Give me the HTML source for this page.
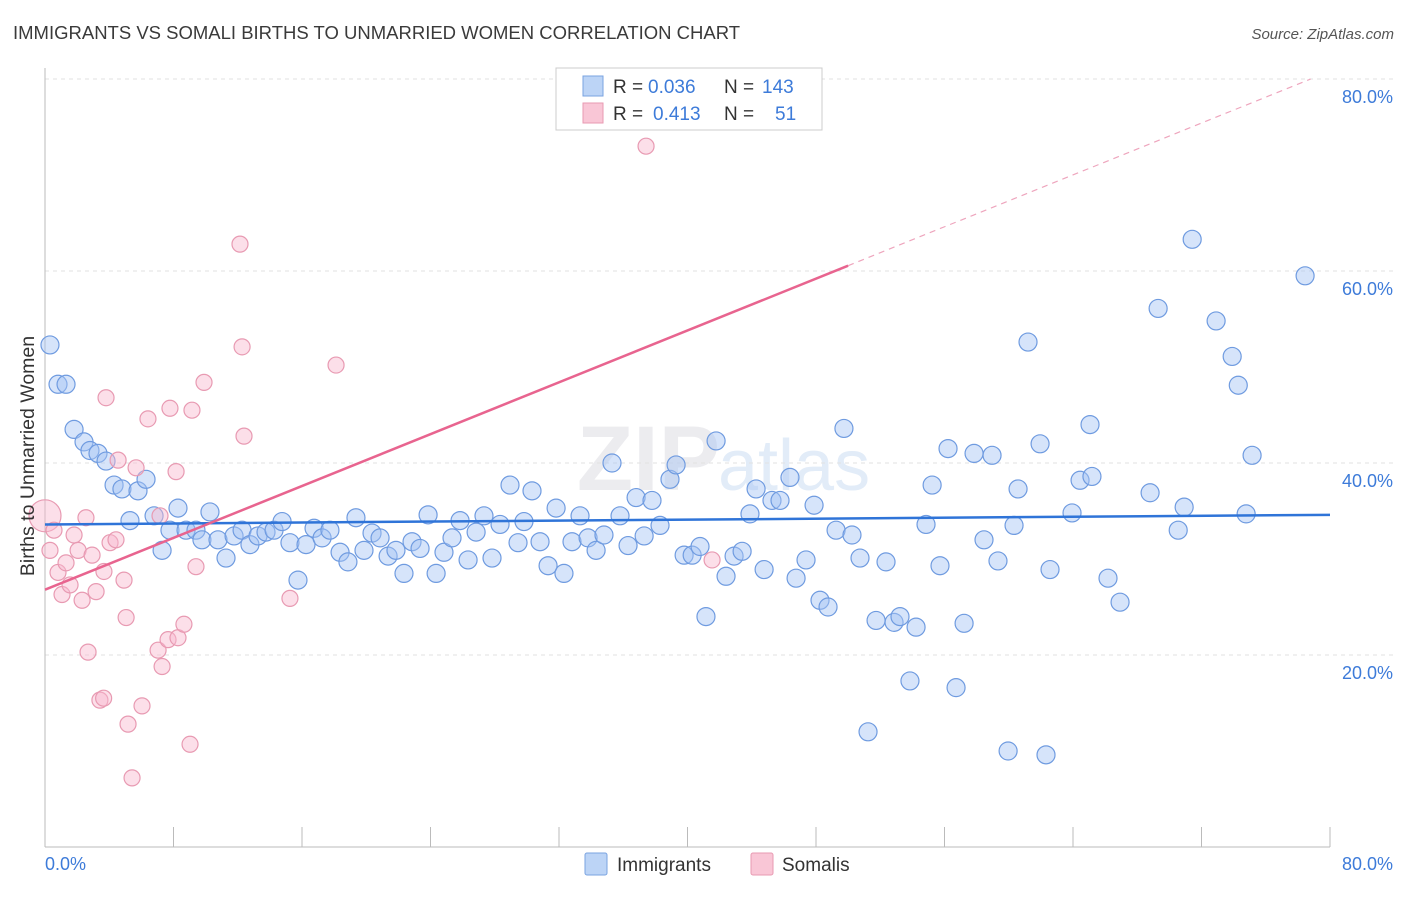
<!DOCTYPE html>
<html><head><meta charset="utf-8"><style>
body{margin:0;background:#fff;font-family:"Liberation Sans",sans-serif}
svg text{font-family:"Liberation Sans",sans-serif}
</style></head><body>
<svg width="1406" height="892" xmlns="http://www.w3.org/2000/svg">
<text x="13" y="39" font-size="18.5" fill="#3a3a3a">IMMIGRANTS VS SOMALI BIRTHS TO UNMARRIED WOMEN CORRELATION CHART</text>
<text x="1394" y="39" font-size="15" fill="#555" font-style="italic" text-anchor="end">Source: ZipAtlas.com</text>
<text x="720" y="490" font-size="92" fill="#ececef" text-anchor="end" font-family="Liberation Serif" font-weight="bold">ZIP</text>
<text x="718" y="490" font-size="72" fill="#e2ecf8">atlas</text>
<g id="grid"></g>
<g id="axes"></g>
<g id="pts"></g>
<g id="lines"></g>
<text transform="translate(34,456) rotate(-90)" font-size="19.5" fill="#333" text-anchor="middle">Births to Unmarried Women</text>
<g>
<rect x="556" y="68" width="266" height="62" fill="#fff" stroke="#ccc"/>
<rect x="583" y="76" width="20" height="20" fill="#bcd4f6" stroke="#7aa3e0"/>
<rect x="583" y="103" width="20" height="20" fill="#f9c6d6" stroke="#e89ab2"/>
<text x="613" y="93" font-size="19" fill="#333">R =</text>
<text x="648" y="93" font-size="19" fill="#3d7bd9">0.036</text>
<text x="724" y="93" font-size="19" fill="#333">N =</text>
<text x="762" y="93" font-size="19" fill="#3d7bd9">143</text>
<text x="613" y="120" font-size="19" fill="#333">R =</text>
<text x="653" y="120" font-size="19" fill="#3d7bd9">0.413</text>
<text x="724" y="120" font-size="19" fill="#333">N =</text>
<text x="775" y="120" font-size="19" fill="#3d7bd9">51</text>
</g>
<g>
<rect x="585" y="853" width="22" height="22" fill="#bcd4f6" stroke="#7aa3e0" rx="2"/>
<text x="617" y="871" font-size="19" fill="#333">Immigrants</text>
<rect x="751" y="853" width="22" height="22" fill="#f9c6d6" stroke="#e89ab2" rx="2"/>
<text x="782" y="871" font-size="19" fill="#333">Somalis</text>
</g>
</svg>
<script>
const yTicks=[20,40,60,80];
const xTickLabels=["0.0%","80.0%"];
const blueX=[0.31,0.81,1.31,1.81,2.43,2.80,3.30,3.80,4.30,4.79,5.79,6.29,5.29,6.79,7.29,7.78,8.28,8.78,9.40,9.77,10.27,10.77,11.27,11.77,12.27,12.76,13.26,13.76,14.26,14.76,15.25,15.75,16.25,16.75,17.25,17.74,18.37,18.86,19.36,19.86,20.36,20.86,21.36,21.85,22.35,22.85,23.35,23.85,24.35,24.84,25.34,25.84,26.34,26.84,27.33,27.83,28.33,28.95,29.45,29.82,30.32,30.82,31.32,31.82,32.31,32.81,33.31,33.81,34.31,34.80,35.30,35.80,36.30,36.80,37.30,37.79,38.29,38.91,39.29,39.79,40.29,40.78,41.15,41.78,42.40,42.90,43.40,43.89,44.27,44.77,45.26,45.76,46.38,46.76,47.38,47.88,48.25,48.75,49.25,49.74,50.24,50.74,51.24,51.74,52.36,52.86,53.23,53.85,54.23,54.85,55.23,55.72,56.22,56.72,57.22,57.84,58.46,58.96,59.33,59.96,60.33,60.58,61.20,61.95,62.32,62.57,63.94,64.44,65.06,65.18,66.18,66.93,68.80,69.30,70.55,70.92,71.42,72.91,73.91,74.29,74.78,75.15,78.45];
const blueY=[52.3,48.2,48.2,43.5,42.2,41.3,41.0,40.2,37.7,37.3,37.1,38.3,34.0,34.5,30.9,33.0,35.3,33.0,33.0,32.0,34.9,32.0,30.1,32.4,33.0,31.5,32.4,32.8,33.0,33.9,31.7,27.8,31.5,33.2,32.2,33.0,30.7,29.7,34.3,30.9,32.7,32.2,30.3,30.9,28.5,31.8,31.1,34.6,28.5,30.7,32.2,34.0,29.9,32.8,34.5,30.1,33.6,37.7,31.7,33.9,37.1,31.8,29.3,35.3,28.5,31.8,34.5,32.2,30.9,32.5,40.0,34.5,31.4,36.4,32.4,36.1,33.5,38.3,39.8,30.4,30.4,31.3,24.0,42.3,28.2,30.3,30.8,34.7,37.3,28.9,36.1,36.1,38.5,28.0,29.9,35.6,25.7,25.0,33.0,43.6,32.5,30.1,12.0,23.6,29.7,23.4,24.0,17.3,22.9,33.6,37.7,29.3,41.5,16.6,23.3,41.0,32.0,40.8,29.8,10.0,33.5,37.3,52.6,42.0,9.6,28.9,34.8,38.2,44.0,38.6,28.0,25.5,36.9,56.1,33.0,35.4,63.3,54.8,51.1,48.1,34.7,40.8,59.5];
const pinkX=[0,0.31,0.56,0.81,1.06,1.31,1.56,1.81,2.06,2.31,2.55,2.68,2.93,3.18,3.42,3.67,3.80,4.05,4.42,4.55,4.92,5.05,5.17,5.42,5.67,6.04,6.41,7.04,7.29,7.66,7.78,8.16,8.28,8.65,9.03,9.15,9.40,9.90,12.14,12.27,12.39,15.25,18.12,37.42,41.53,7.16,3.65];
const pinkY=[34.5,30.9,33.0,28.6,26.3,29.6,27.3,32.5,30.9,25.7,34.3,20.3,30.4,26.6,15.3,28.7,46.8,31.7,32.0,40.3,27.8,23.9,12.8,7.2,39.5,14.7,44.6,20.5,18.8,21.6,45.7,39.1,21.8,23.2,10.7,45.5,29.2,48.4,62.8,52.1,42.8,25.9,50.2,73.0,29.9,34.5,15.5];
const blueLine=[33.6,34.6];
const pinkLine=[26.8,80];
const NS="http://www.w3.org/2000/svg";
const X=v=>45+v/80*1285, Y=v=>847-v/20*192;
function mk(t,a,p){const e=document.createElementNS(NS,t);for(const k in a)e.setAttribute(k,a[k]);document.getElementById(p).appendChild(e);return e;}
yTicks.forEach(t=>{
 const g=mk("line",{x1:45,x2:1394,y1:Y(t),y2:Y(t),stroke:"#e2e2e2","stroke-dasharray":"4,4"},"grid");
 
 
 const l=mk("text",{x:1393,y:Y(t)+24,"font-size":18,fill:"#3d7bd9","text-anchor":"end"},"axes");l.textContent=t.toFixed(1)+"%";
 
 
});
const ax=mk("line",{x1:45,x2:45,y1:68,y2:847,stroke:"#bbb"},"axes");


const bx=mk("line",{x1:45,x2:1330,y1:847,y2:847,stroke:"#bbb"},"axes");


for(let i=0;i<=10;i++){const t=mk("line",{x1:X(i*8),x2:X(i*8),y1:827,y2:847,stroke:"#bbb"},"axes");
 
 }
const xl0=mk("text",{x:45,y:870,"font-size":18,fill:"#3d7bd9"},"axes");xl0.textContent=xTickLabels[0];


const xl1=mk("text",{x:1393,y:870,"font-size":18,fill:"#3d7bd9","text-anchor":"end"},"axes");xl1.textContent=xTickLabels[1];


blueX.forEach((x,i)=>{const c=mk("circle",{cx:X(x),cy:Y(blueY[i]),r:9,fill:"rgba(164,196,244,0.45)",stroke:"#6f9be0","stroke-width":1.2},"pts");
 
 });
pinkX.forEach((x,i)=>{const c=mk("circle",{cx:X(x),cy:Y(pinkY[i]),r:i==0?16:8,fill:"rgba(248,184,206,0.45)",stroke:"#e89ab2","stroke-width":1.2},"pts");
 
 });
const bl=mk("line",{x1:X(0),y1:Y(blueLine[0]),x2:X(80),y2:Y(blueLine[1]),stroke:"#2f74d8","stroke-width":2.5},"lines");


const slope=(pinkLine[1]-pinkLine[0])/78.8;
const px=50;
const pl=mk("line",{x1:X(0),y1:Y(pinkLine[0]),x2:X(px),y2:Y(pinkLine[0]+slope*px),stroke:"#e8648f","stroke-width":2.5},"lines");


const pd=mk("line",{x1:X(px),y1:Y(pinkLine[0]+slope*px),x2:X(78.8),y2:Y(pinkLine[1]),stroke:"#eea5bd","stroke-width":1.2,"stroke-dasharray":"6,5"},"lines");


</script>
</body></html>
